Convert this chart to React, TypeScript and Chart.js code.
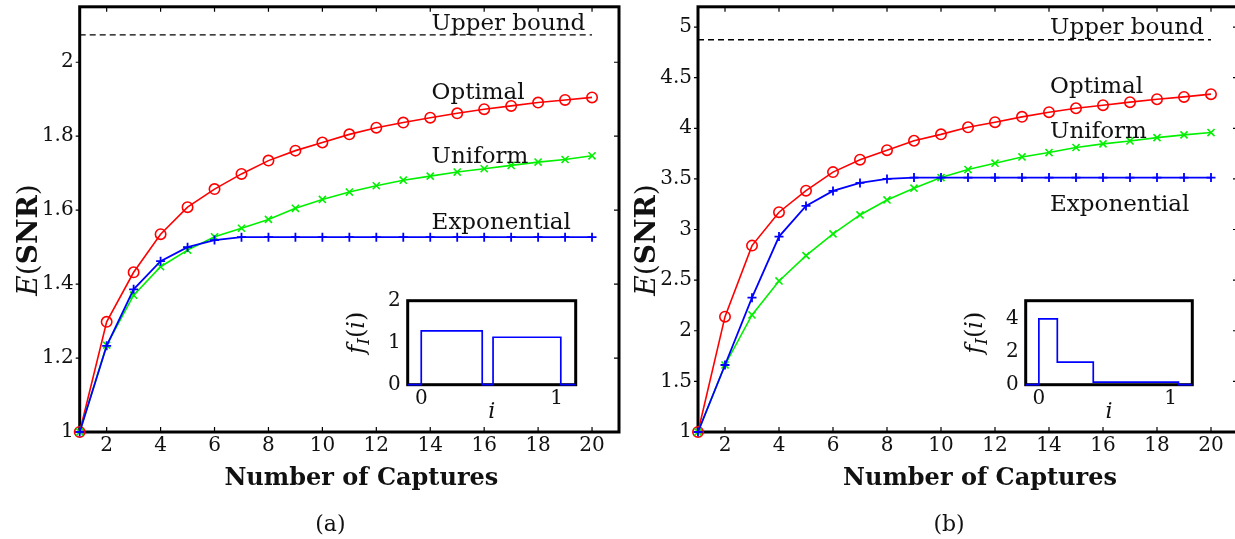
import React, { useEffect, useRef } from "react";
import { Chart, registerables } from "chart.js";

Chart.register(...registerables);

const FONT = "'DejaVu Serif', 'Liberation Serif', serif";
const INK = "#111111";
const RED = "#ff0000";
const GREEN = "#00f000";
const BLUE = "#0000ff";

// ---------------- data ----------------
const captures = [1, 2, 3, 4, 5, 6, 7, 8, 9, 10, 11, 12, 13, 14, 15, 16, 17, 18, 19, 20];
const xTickValues = [2, 4, 6, 8, 10, 12, 14, 16, 18, 20];

const optimalA = [1.0, 1.298, 1.432, 1.535, 1.608, 1.657, 1.698, 1.734, 1.761, 1.783, 1.805, 1.823, 1.837, 1.85, 1.862, 1.873, 1.882, 1.891, 1.898, 1.905];
const uniformA = [1.0, 1.235, 1.37, 1.447, 1.492, 1.528, 1.551, 1.575, 1.605, 1.629, 1.649, 1.666, 1.681, 1.692, 1.703, 1.712, 1.721, 1.73, 1.737, 1.747];
const exponentialA = [1.0, 1.233, 1.386, 1.462, 1.5, 1.519, 1.527, 1.527, 1.527, 1.527, 1.527, 1.527, 1.527, 1.527, 1.527, 1.527, 1.527, 1.527, 1.527, 1.527];
const upperBoundA = 2.074;
const yTicksA = [1, 1.2, 1.4, 1.6, 1.8, 2];

const optimalB = [1.0, 2.139, 2.841, 3.171, 3.384, 3.567, 3.69, 3.784, 3.877, 3.94, 4.01, 4.06, 4.113, 4.159, 4.198, 4.228, 4.258, 4.287, 4.31, 4.337];
const uniformB = [1.0, 1.662, 2.156, 2.492, 2.742, 2.957, 3.144, 3.292, 3.408, 3.513, 3.592, 3.655, 3.717, 3.76, 3.81, 3.846, 3.875, 3.908, 3.935, 3.958];
const exponentialB = [1.0, 1.662, 2.327, 2.93, 3.233, 3.381, 3.46, 3.5, 3.513, 3.513, 3.513, 3.513, 3.513, 3.513, 3.513, 3.513, 3.513, 3.513, 3.513, 3.513];
const upperBoundB = 4.875;
const yTicksB = [1, 1.5, 2, 2.5, 3, 3.5, 4, 4.5, 5];

const seriesNames = ["Upper bound", "Optimal", "Uniform", "Exponential"];
const noteXA = 14.05;
const noteYA = [2.086, 1.9, 1.728, 1.55];
const noteXB = 14.04;
const noteYB = [4.933, 4.353, 3.908, 3.187];

const insetAi = [-0.1, 0, 0.45, 0.53, 1.03, 1.14];
const insetAf = [0, 1.28, 0, 1.13, 0, 0];
const insetBi = [-0.1, 0, 0.14, 0.413, 1.06, 1.165];
const insetBf = [0, 4, 1.37, 0.16, 0, 0];
const insetXTicks = [0, 1];
const insetYTicksA = [0, 1, 2];
const insetYTicksB = [0, 2, 4];

// ---------------- helpers ----------------
const toPoints = (xs: number[], ys: number[]) => xs.map((x, i) => ({ x, y: ys[i] }));
const fixedTicks = (vals: number[]) => (s: any) => {
  s.ticks = vals.map((v) => ({ value: v }));
};

type Part = { text: string; font: string; dy?: number };
function drawVerticalRun(ctx: CanvasRenderingContext2D, parts: Part[], baselineX: number, centerY: number) {
  ctx.save();
  ctx.translate(baselineX, centerY);
  ctx.rotate(-Math.PI / 2);
  let total = 0;
  for (const p of parts) {
    ctx.font = p.font;
    total += ctx.measureText(p.text).width;
  }
  let x = -total / 2;
  ctx.textAlign = "left";
  ctx.textBaseline = "alphabetic";
  for (const p of parts) {
    ctx.font = p.font;
    ctx.fillText(p.text, x, p.dy || 0);
    x += ctx.measureText(p.text).width;
  }
  ctx.restore();
}

type Area = { left: number; top: number; right: number; bottom: number };

type MainPanel = {
  width: number;
  height: number;
  area: Area;
  yMin: number;
  yMax: number;
  yTicks: number[];
  optimal: number[];
  uniform: number[];
  exponential: number[];
  upper: number;
  noteX: number;
  noteY: number[];
  caption: string;
};

const zeroPad = (s: any) => {
  s.paddingLeft = 0;
  s.paddingRight = 0;
  s.paddingTop = 0;
  s.paddingBottom = 0;
};

function mainChart(canvas: HTMLCanvasElement, p: MainPanel) {
  const a0 = p.area;
  const frame = {
    id: "frame",
    beforeDatasetsDraw(chart: any) {
      const { ctx, chartArea: a } = chart;
      const xs = chart.scales.x;
      const ys = chart.scales.y;
      ctx.save();
      ctx.strokeStyle = "#000";
      ctx.lineWidth = 1.2;
      ctx.beginPath();
      for (const t of xs.ticks) {
        const px = xs.getPixelForValue(t.value);
        ctx.moveTo(px, a.bottom);
        ctx.lineTo(px, a.bottom - 5);
        ctx.moveTo(px, a.top);
        ctx.lineTo(px, a.top + 5);
      }
      for (const t of ys.ticks) {
        const py = ys.getPixelForValue(t.value);
        ctx.moveTo(a.right, py);
        ctx.lineTo(a.right - 5, py);
        ctx.moveTo(a.left, py);
        ctx.lineTo(a.left - 4, py);
      }
      ctx.stroke();
      ctx.lineWidth = 3;
      ctx.strokeRect(a.left, a.top, a.right - a.left, a.bottom - a.top);
      ctx.restore();
    },
  };
  const notes = {
    id: "notes",
    afterDatasetsDraw(chart: any) {
      const { ctx, chartArea: a } = chart;
      const xs = chart.scales.x;
      const ys = chart.scales.y;
      ctx.save();
      ctx.fillStyle = INK;
      ctx.font = `23px ${FONT}`;
      ctx.textAlign = "left";
      ctx.textBaseline = "alphabetic";
      seriesNames.forEach((name, i) => {
        ctx.fillText(name, xs.getPixelForValue(p.noteX), ys.getPixelForValue(p.noteY[i]));
      });
      ctx.textAlign = "center";
      ctx.font = `bold 24px ${FONT}`;
      ctx.fillText("Number of Captures", (a.left + a.right) / 2 + 12, a.bottom + 53);
      ctx.font = `22px ${FONT}`;
      ctx.fillText(p.caption, (a.left + a.right) / 2 - 19, 531);
      drawVerticalRun(
        ctx,
        [
          { text: "E", font: `italic 28px ${FONT}` },
          { text: "(", font: `28px ${FONT}` },
          { text: "SNR", font: `bold 28px ${FONT}` },
          { text: ")", font: `28px ${FONT}` },
        ],
        a.left - 43,
        240
      );
      ctx.restore();
    },
  };
  return new Chart(canvas, {
    type: "line",
    data: {
      datasets: [
        {
          label: seriesNames[3],
          data: toPoints(captures, p.exponential),
          borderColor: BLUE,
          backgroundColor: BLUE,
          borderWidth: 1.8,
          pointStyle: "cross",
          pointRadius: 4.5,
          pointBorderWidth: 1.8,
          pointBorderColor: BLUE,
          clip: false,
        },
        {
          label: seriesNames[2],
          data: toPoints(captures, p.uniform),
          borderColor: GREEN,
          backgroundColor: GREEN,
          borderWidth: 1.6,
          pointStyle: "crossRot",
          pointRadius: 5,
          pointBorderWidth: 1.6,
          pointBorderColor: GREEN,
          clip: false,
        },
        {
          label: seriesNames[1],
          data: toPoints(captures, p.optimal),
          borderColor: RED,
          backgroundColor: "rgba(0,0,0,0)",
          borderWidth: 1.6,
          pointStyle: "circle",
          pointRadius: 5.2,
          pointBorderWidth: 1.6,
          pointBorderColor: RED,
          pointBackgroundColor: "rgba(0,0,0,0)",
          clip: false,
        },
        {
          label: seriesNames[0],
          data: [
            { x: captures[0], y: p.upper },
            { x: captures[captures.length - 1], y: p.upper },
          ],
          borderColor: "#000",
          borderWidth: 1.4,
          borderDash: [6, 4],
          pointRadius: 0,
          clip: false,
        },
      ],
    } as any,
    options: {
      animation: false,
      responsive: false,
      events: [],
      layout: { padding: { left: 0, top: a0.top, right: p.width - a0.right, bottom: 0 } },
      plugins: { legend: { display: false }, tooltip: { enabled: false } },
      scales: {
        x: {
          type: "linear",
          min: 1,
          max: 21,
          afterBuildTicks: fixedTicks(xTickValues),
          afterFit: (s: any) => {
            s.height = p.height - a0.bottom;
            zeroPad(s);
          },
          grid: { display: false, drawTicks: false },
          border: { display: false },
          ticks: {
            autoSkip: false,
            maxRotation: 0,
            padding: 2,
            color: INK,
            font: { family: FONT, size: 20 },
            callback: (v: any) => String(v),
          },
        },
        y: {
          type: "linear",
          min: p.yMin,
          max: p.yMax,
          afterBuildTicks: fixedTicks(p.yTicks),
          afterFit: (s: any) => {
            s.width = a0.left;
            zeroPad(s);
          },
          grid: { display: false, drawTicks: false },
          border: { display: false },
          ticks: {
            autoSkip: false,
            padding: 6,
            color: INK,
            font: { family: FONT, size: 20 },
            callback: (v: any) => String(v),
          },
        },
      },
    } as any,
    plugins: [frame, notes],
  });
}

type InsetPanel = {
  width: number;
  height: number;
  area: Area;
  xMin: number;
  xMax: number;
  yMax: number;
  yTicks: number[];
  i: number[];
  f: number[];
};

function insetChart(canvas: HTMLCanvasElement, p: InsetPanel) {
  const a0 = p.area;
  const frame = {
    id: "insetFrame",
    beforeDatasetsDraw(chart: any) {
      const { ctx, chartArea: a } = chart;
      ctx.save();
      ctx.fillStyle = "#fff";
      ctx.fillRect(a.left, a.top, a.right - a.left, a.bottom - a.top);
      ctx.strokeStyle = "#000";
      ctx.lineWidth = 3;
      ctx.strokeRect(a.left, a.top, a.right - a.left, a.bottom - a.top);
      ctx.restore();
    },
  };
  const notes = {
    id: "insetNotes",
    afterDatasetsDraw(chart: any) {
      const { ctx, chartArea: a } = chart;
      ctx.save();
      ctx.fillStyle = INK;
      ctx.textAlign = "center";
      ctx.textBaseline = "alphabetic";
      ctx.font = `italic 22px ${FONT}`;
      ctx.fillText("i", (a.left + a.right) / 2, a.bottom + 33);
      drawVerticalRun(
        ctx,
        [
          { text: "f", font: `italic 24px ${FONT}` },
          { text: "I", font: `italic 17px ${FONT}`, dy: 5 },
          { text: "(", font: `24px ${FONT}` },
          { text: "i", font: `italic 24px ${FONT}` },
          { text: ")", font: `24px ${FONT}` },
        ],
        a.left - 44,
        (a.top + a.bottom) / 2 - 10
      );
      ctx.restore();
    },
  };
  return new Chart(canvas, {
    type: "line",
    data: {
      datasets: [
        {
          data: toPoints(p.i, p.f),
          stepped: "before",
          borderColor: BLUE,
          borderWidth: 1.7,
          pointRadius: 0,
          clip: false,
        },
      ],
    } as any,
    options: {
      animation: false,
      responsive: false,
      events: [],
      layout: { padding: { left: 0, top: a0.top, right: p.width - a0.right, bottom: 0 } },
      plugins: { legend: { display: false }, tooltip: { enabled: false } },
      scales: {
        x: {
          type: "linear",
          min: p.xMin,
          max: p.xMax,
          afterBuildTicks: fixedTicks(insetXTicks),
          afterFit: (s: any) => {
            s.height = p.height - a0.bottom;
            zeroPad(s);
          },
          grid: { display: false, drawTicks: false },
          border: { display: false },
          ticks: {
            autoSkip: false,
            maxRotation: 0,
            padding: 2,
            color: INK,
            font: { family: FONT, size: 20 },
            callback: (v: any) => String(v),
          },
        },
        y: {
          type: "linear",
          min: 0,
          max: p.yMax,
          afterBuildTicks: fixedTicks(p.yTicks),
          afterFit: (s: any) => {
            s.width = a0.left;
            zeroPad(s);
          },
          grid: { display: false, drawTicks: false },
          border: { display: false },
          ticks: {
            autoSkip: false,
            padding: 7,
            color: INK,
            font: { family: FONT, size: 20 },
            callback: (v: any) => String(v),
          },
        },
      },
    } as any,
    plugins: [frame, notes],
  });
}

// ---------------- layout ----------------
const H = 539;
const panelA: MainPanel = {
  width: 630,
  height: H,
  area: { left: 79.7, top: 6, right: 619, bottom: 432 },
  yMin: 1,
  yMax: 2.15,
  yTicks: yTicksA,
  optimal: optimalA,
  uniform: uniformA,
  exponential: exponentialA,
  upper: upperBoundA,
  noteX: noteXA,
  noteY: noteYA,
  caption: "(a)",
};
const panelB: MainPanel = {
  width: 625,
  height: H,
  area: { left: 78, top: 6, right: 618, bottom: 432 },
  yMin: 1,
  yMax: 5.2,
  yTicks: yTicksB,
  optimal: optimalB,
  uniform: uniformB,
  exponential: exponentialB,
  upper: upperBoundB,
  noteX: noteXB,
  noteY: noteYB,
  caption: "(b)",
};
const insetA: InsetPanel = {
  width: 250,
  height: 140,
  area: { left: 67.7, top: 15.7, right: 235.7, bottom: 99.7 },
  xMin: -0.1,
  xMax: 1.14,
  yMax: 2,
  yTicks: insetYTicksA,
  i: insetAi,
  f: insetAf,
};
const insetB: InsetPanel = {
  width: 250,
  height: 140,
  area: { left: 65.7, top: 15.7, right: 232.3, bottom: 99.7 },
  xMin: -0.1,
  xMax: 1.165,
  yMax: 5.1,
  yTicks: insetYTicksB,
  i: insetBi,
  f: insetBf,
};

export default function App() {
  const refA = useRef<HTMLCanvasElement>(null);
  const refB = useRef<HTMLCanvasElement>(null);
  const refIA = useRef<HTMLCanvasElement>(null);
  const refIB = useRef<HTMLCanvasElement>(null);

  useEffect(() => {
    const charts = [
      mainChart(refA.current!, panelA),
      mainChart(refB.current!, panelB),
      insetChart(refIA.current!, insetA),
      insetChart(refIB.current!, insetB),
    ];
    return () => charts.forEach((c) => c.destroy());
  }, []);

  const abs = (left: number, top: number, w: number, h: number): React.CSSProperties => ({
    position: "absolute",
    left,
    top,
    width: w,
    height: h,
  });

  return (
    <div
      style={{
        position: "fixed",
        left: 0,
        top: 0,
        width: 1235,
        height: 539,
        overflow: "hidden",
        background: "#ffffff",
      }}
    >
      <canvas ref={refA} width={630} height={H} style={abs(0, 0, 630, H)} />
      <canvas ref={refB} width={625} height={H} style={abs(620, 0, 625, H)} />
      <canvas ref={refIA} width={250} height={140} style={abs(340, 285, 250, 140)} />
      <canvas ref={refIB} width={250} height={140} style={abs(960, 285, 250, 140)} />
    </div>
  );
}
